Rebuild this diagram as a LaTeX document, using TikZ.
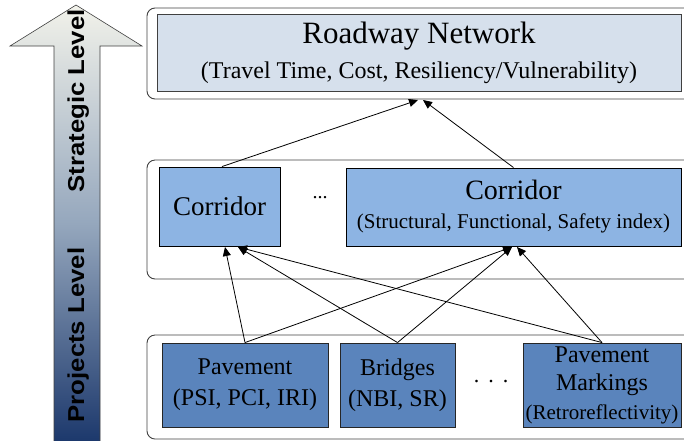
\documentclass[tikz,border=0pt]{standalone}
\usepackage{fontspec}
\setmainfont{Liberation Serif}
\newfontfamily\sansb{Liberation Sans}
\usetikzlibrary{arrows.meta}
\definecolor{topfill}{HTML}{D6E0EC}
\definecolor{midfill}{HTML}{8DB4E3}
\definecolor{lowfill}{HTML}{5A84BC}
\definecolor{arrtop}{HTML}{F2F2EA}
\definecolor{arrmid}{HTML}{95A7BD}
\definecolor{arrbot}{HTML}{1C386C}
\definecolor{edgegray}{HTML}{404040}
\tikzset{
  group/.style={draw=edgegray, line width=0.9pt, rounded corners=8pt},
  topbox/.style={draw=edgegray, fill=topfill, line width=0.9pt, inner sep=0pt, align=center},
  midbox/.style={draw=black, fill=midfill, line width=0.9pt, inner sep=0pt, align=center},
  lowbox/.style={draw=black!85, fill=lowfill, line width=0.9pt, inner sep=0pt, align=center},
  link/.style={draw=black, line width=0.8pt, -{Triangle[length=9pt,width=8pt]}},
  lvl/.style={rotate=90, anchor=base, font=\sansb\bfseries\fontsize{23}{23}\selectfont}
}
\begin{document}
\begin{tikzpicture}[x=1pt,y=-1pt]
\useasboundingbox (0,0) rectangle (684,440);
% level arrow
\shade[top color=arrtop, bottom color=arrbot, middle color=arrmid, draw=edgegray, line width=0.6pt]
  (54,442) -- (54,46) -- (10,46) -- (76,5) -- (142,46) -- (100,46) -- (100,442) -- cycle;
\node[lvl] (strat) at (84,101) {\scalebox{1.12}[1]{Strategic Level}};
\node[lvl] (proj) at (84,335) {\scalebox{1.12}[1]{Projects Level}};
% group frames
\draw[group] (147,8) rectangle (720,99);
\draw[group] (147,160) rectangle (720,279);
\draw[group] (147,335) rectangle (720,439);
% boxes
\node[topbox, minimum width=524pt, minimum height=77pt, font=\fontsize{24}{35}\selectfont] (road) at (419,52.5)
  {{\fontsize{31}{35}\selectfont Roadway Network}\\(Travel Time, Cost, Resiliency/Vulnerability)};
\node[midbox, minimum width=121pt, minimum height=79pt, font=\fontsize{27}{30}\selectfont] (c1) at (219.5,206.5)
  {Corridor};
\node[midbox, minimum width=335pt, minimum height=78pt, font=\fontsize{21}{29}\selectfont] (c2) at (513.5,207)
  {{\fontsize{28}{29}\selectfont Corridor}\\(Structural, Functional, Safety index)};
\node[font=\fontsize{20}{20}\selectfont] (dots1) at (320,198) {...};
\node[lowbox, minimum width=166pt, minimum height=84pt, font=\fontsize{24}{31}\selectfont] (pav) at (245,385)
  {Pavement\\(PSI, PCI, IRI)};
\node[lowbox, minimum width=115pt, minimum height=84pt, font=\fontsize{24}{31}\selectfont] (bri) at (397.5,385)
  {Bridges\\(NBI, SR)};
\node[font=\fontsize{22}{22}\selectfont] (dots2) at (491,382) {.\hspace{9pt}.\hspace{9pt}.};
\node[lowbox, minimum width=158pt, minimum height=84pt, font=\fontsize{24}{28.5}\selectfont] (pm) at (602,385)
  {Pavement\\Markings\\{\fontsize{21}{28.5}\selectfont (Retroreflectivity)}};
% connector targets
\coordinate (t1) at (418,100);
\coordinate (t2) at (423,100);
\coordinate (a1) at (225,247);
\coordinate (a2) at (238,247);
\coordinate (b1) at (512,247);
\coordinate (b2) at (517,247);
% connectors
\draw[link] (c1.north -| 222,0) -- (t1);
\draw[link] (c2.north) -- (t2);
\draw[link] (pav.north) -- (a1);
\draw[link] (pav.north) -- (b1);
\draw[link] (bri.north) -- (a2);
\draw[link] (bri.north) -- (b1);
\draw[link] (pm.north) -- (a2);
\draw[link] (pm.north) -- (b2);
\end{tikzpicture}
\end{document}
